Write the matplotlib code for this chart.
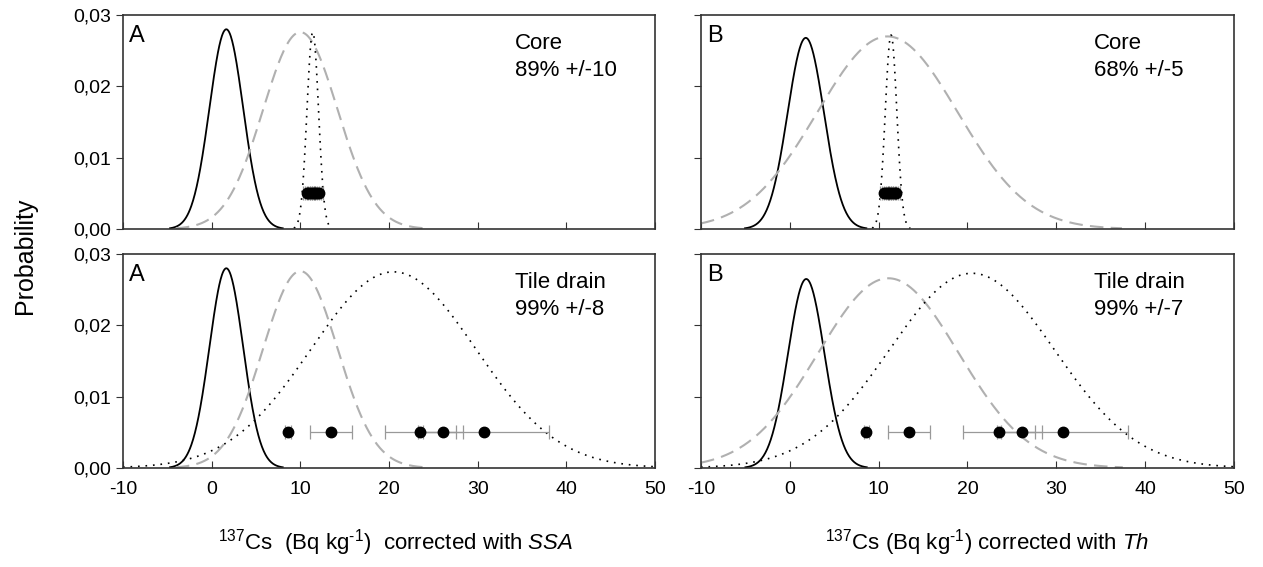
import numpy as np
import matplotlib
matplotlib.use("Agg")
import matplotlib.pyplot as plt

plt.rcParams['font.family'] = ['Liberation Sans', 'DejaVu Sans']
plt.rcParams['mathtext.fontset'] = 'custom'
plt.rcParams['mathtext.rm'] = 'Liberation Sans'
plt.rcParams['mathtext.it'] = 'Liberation Sans:italic'
plt.rcParams['axes.unicode_minus'] = False

# curve parameters: (mean, sigma, peak)
solid_A = (1.65, 1.9, 0.0280)
dashed_A = (10.0, 4.2, 0.0276)
core_dot_A = (11.4, 0.65, 0.0276)
tile_dot_A = (20.5, 9.3, 0.0275)

solid_B = (1.8, 2.05, 0.0268)
solid_B2 = (1.85, 2.05, 0.0265)
dashed_B = (11.0, 7.9, 0.0270)
dashed_B2 = (11.1, 7.9, 0.0266)
core_dot_B = (11.4, 0.65, 0.0272)
tile_dot_B = (20.5, 9.3, 0.0273)

# samples (x, error) at y = 0.005
core_x_A = [10.7, 10.9, 11.1, 11.3, 11.5, 11.7, 11.9, 12.1]
core_err_A = [0.4, 0.4, 0.4, 0.4, 0.4, 0.4, 0.4, 0.4]
core_x_B = [10.6, 10.8, 11.0, 11.2, 11.4, 11.6, 11.8, 12.0]
core_err_B = [0.4, 0.4, 0.4, 0.4, 0.4, 0.4, 0.4, 0.4]
tile_x = [8.6, 13.45, 23.55, 26.1, 30.7]
tile_err = [0.3, 2.35, 4.05, 2.3, 7.4]

panel_letters = ['A', 'B', 'A', 'B']
panel_text = ['Core\n89% +/-10', 'Core\n68% +/-5',
              'Tile drain\n99% +/-8', 'Tile drain\n99% +/-7']

yticks = [0, 0.01, 0.02, 0.03]
ytick_labels = ['0,00', '0,01', '0,02', '0,03']
xticks = [-10, 0, 10, 20, 30, 40, 50]


def gauss(x, p):
    m, s, h = p
    return h * np.exp(-0.5 * ((x - m) / s) ** 2)


fig = plt.figure(figsize=(12.63, 5.67), dpi=100)
pos = [[0.0974, 0.5961, 0.4212, 0.3774],
       [0.555, 0.5961, 0.422, 0.3774],
       [0.0974, 0.1746, 0.4212, 0.3774],
       [0.555, 0.1746, 0.422, 0.3774]]

curves = [(solid_A, dashed_A, core_dot_A, core_x_A, core_err_A),
          (solid_B, dashed_B, core_dot_B, core_x_B, core_err_B),
          (solid_A, dashed_A, tile_dot_A, tile_x, tile_err),
          (solid_B2, dashed_B2, tile_dot_B, tile_x, tile_err)]

x = np.linspace(-10, 50, 1200)
for i in range(4):
    ax = fig.add_axes(pos[i])
    sol, dsh, dot, px, perr = curves[i]
    ys = gauss(x, sol)
    ax.plot(x[ys > 1e-4], ys[ys > 1e-4], color='black', lw=1.3)
    yd = gauss(x, dsh)
    ax.plot(x[yd > 1e-4], yd[yd > 1e-4], color='#b0b0b0', lw=1.5, dashes=(6.5, 3.5))
    yo = gauss(x, dot)
    ax.plot(x[yo > 1e-4], yo[yo > 1e-4], color='black', lw=1.2, linestyle=(0, (1, 3.5)))
    ax.errorbar(px, [0.005] * len(px), xerr=perr, fmt='o', color='black',
                ms=7.5, ecolor='#999999', elinewidth=0.9, capsize=5, capthick=0.9)

    ax.set_xlim(-10, 50)
    ax.set_ylim(0, 0.03)
    ax.set_xticks(xticks)
    ax.set_yticks(yticks)
    ax.tick_params(axis='x', direction='in', length=5, labelsize=14, pad=9, color='#333333')
    ax.tick_params(axis='y', direction='out', length=5, labelsize=14, color='#333333')
    if i % 2 == 0:
        ax.set_yticklabels(ytick_labels)
    else:
        ax.set_yticklabels([])
    if i < 2:
        ax.set_xticklabels([])
    for sp in ax.spines.values():
        sp.set_color('#333333')
        sp.set_linewidth(1.2)

    ax.text(-9.3, 0.0286, panel_letters[i], fontsize=17, va='top', ha='left')
    ax.text(34.2, 0.0275, panel_text[i], fontsize=16, va='top', ha='left',
            linespacing=1.4)

fig.text(0.02, 0.548, 'Probability', rotation=90, fontsize=18, va='center', ha='center')
fig.text(0.313, 0.03, r'$^{137}$Cs  (Bq kg$^{\text{-1}}$)  corrected with $\mathit{SSA}$',
         fontsize=16, ha='center')
fig.text(0.782, 0.03, r'$^{137}$Cs (Bq kg$^{\text{-1}}$) corrected with $\mathit{Th}$',
         fontsize=16, ha='center')

fig.savefig('out.png', dpi=100)
